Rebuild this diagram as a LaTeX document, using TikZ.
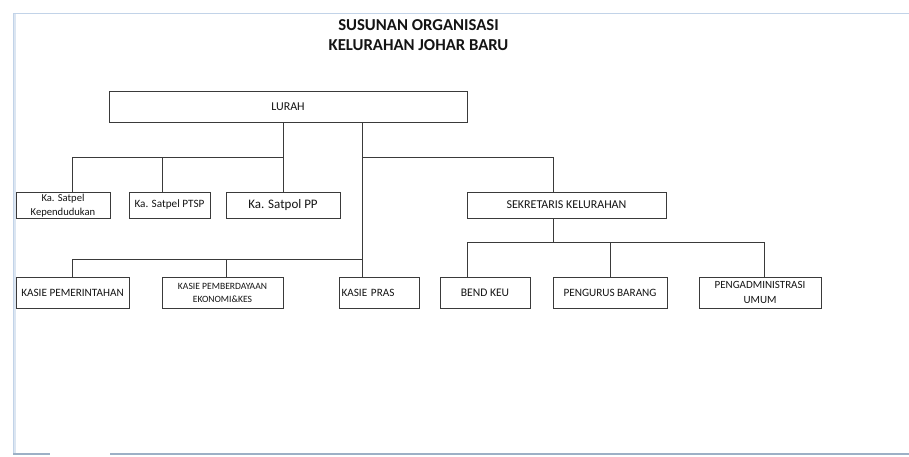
\documentclass[tikz,border=0pt]{standalone}
\usepackage{fontspec}
\setmainfont{Carlito}
\usetikzlibrary{calc}
\definecolor{linec}{HTML}{3A3A3A}
\definecolor{txtc}{HTML}{141414}
\definecolor{framec}{HTML}{C2D3E8}
\definecolor{framefill}{HTML}{DCE6F2}
\definecolor{framedark}{HTML}{9DB0C6}
\tikzset{
  box/.style={draw=linec, line width=1pt, rectangle, inner sep=0pt, outer sep=0pt, text=txtc, align=center},
  conn/.style={draw=linec, line width=1pt},
  fsA/.style={font=\fontsize{12}{14}\selectfont},
  fsB/.style={font=\fontsize{11.2}{15}\selectfont},
  fsC/.style={font=\fontsize{9.6}{13}\selectfont},
  fsD/.style={font=\fontsize{13}{15}\selectfont},
}
\begin{document}
\begin{tikzpicture}[x=1pt,y=-1pt]
\useasboundingbox (0,0) rectangle (909,456);
% spreadsheet frame
\fill[framefill] (13,13) rectangle (16,455);
\draw[framec, line width=1pt] (13,13) -- (909,13);
\draw[framec, line width=0.8pt] (13,13) -- (13,455);
\draw[framedark, line width=1.5pt] (13,454) -- (50,454);
\draw[framedark, line width=1.5pt] (110,454) -- (909,454);
% title
\node[text=txtc, align=center, font=\bfseries\fontsize{16.7}{19.5}\selectfont] (title) at (418.5,35) {SUSUNAN ORGANISASI\\KELURAHAN JOHAR BARU};
% boxes
\node[box, fsA, minimum width=358, minimum height=31] (lurah) at (288,106.5) {LURAH};
\node[box, font=\fontsize{10.6}{13.5}\selectfont, minimum width=94, minimum height=26] (satk) at (63,205.5) {Ka. Satpel\\Kependudukan};
\node[box, fsB, minimum width=81, minimum height=26] (ptsp) at (169.5,205) {Ka. Satpel PTSP};
\node[box, fsD, minimum width=114, minimum height=26] (satpol) at (283,205) {Ka. Satpol PP};
\node[box, fsA, minimum width=199, minimum height=26] (sek) at (566.5,205) {SEKRETARIS KELURAHAN};
\node[box, fsB, minimum width=113, minimum height=31] (kpem) at (72.5,292.5) {KASIE PEMERINTAHAN};
\node[box, fsC, minimum width=121, minimum height=31] (kpemb) at (222.5,292.5) {KASIE PEMBERDAYAAN\\EKONOMI\&KES};
\node[box, fsB, minimum width=80, minimum height=31, text width=75, align=left] (kpras) at (379,292.5) {KASIE PRAS};
\node[box, fsB, font=\fontsize{11.6}{15}\selectfont, minimum width=90, minimum height=31] (bend) at (485,292.5) {BEND KEU};
\node[box, fsB, minimum width=114, minimum height=31] (peng) at (610,292.5) {PENGURUS BARANG};
\node[box, fsB, font=\fontsize{11}{15.5}\selectfont, minimum width=122, minimum height=31] (padm) at (760,292.5) {PENGADMINISTRASI\\UMUM};
% junction coordinates
\coordinate (dA) at (283,122);
\coordinate (dB) at (362,122);
\coordinate (h1) at (283,157);
\coordinate (x1) at (72,157);
\coordinate (x2) at (162.5,157);
\coordinate (h2) at (362,157);
\coordinate (x3) at (553,157);
\coordinate (h3) at (362,259);
\coordinate (y1) at (72,259);
\coordinate (y2) at (226,259);
\coordinate (s1) at (553,218);
\coordinate (h4) at (553,242);
\coordinate (z1) at (467,242);
\coordinate (z2) at (610,242);
\coordinate (z3) at (764,242);
% connectors
\draw[conn] (dA) -- (satpol.north);
\draw[conn] (x1) -- (h1);
\draw[conn] (x1) -- (x1 |- satk.north);
\draw[conn] (x2) -- (x2 |- ptsp.north);
\draw[conn] (dB) -- (h3);
\draw[conn] (h2) -- (x3) -- (x3 |- sek.north);
\draw[conn] (y1) -- (h3);
\draw[conn] (y1) -- (y1 |- kpem.north);
\draw[conn] (y2) -- (y2 |- kpemb.north);
\draw[conn] (h3) -- (h3 |- kpras.north);
\draw[conn] (s1) -- (h4);
\draw[conn] (z1) -- (z3);
\draw[conn] (z1) -- (z1 |- bend.north);
\draw[conn] (z2) -- (z2 |- peng.north);
\draw[conn] (z3) -- (z3 |- padm.north);
\end{tikzpicture}
\end{document}
